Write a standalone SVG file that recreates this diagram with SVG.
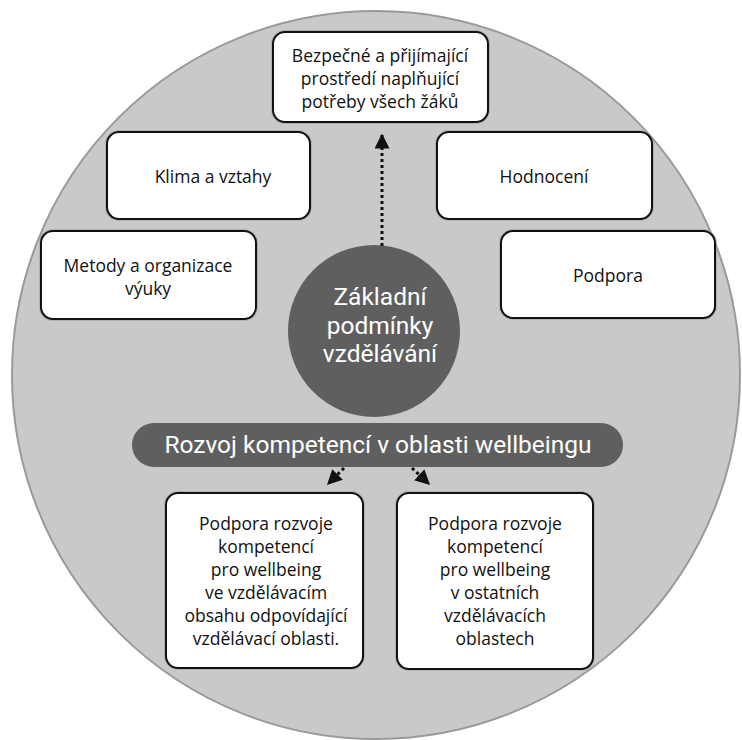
<svg xmlns="http://www.w3.org/2000/svg" width="742" height="740" viewBox="0 0 742 740">
<style>
.box{fill:#fff;stroke:#111;stroke-width:2}
.halo{fill:none;stroke:#999;stroke-width:4;opacity:0.5}
.t{font-family:"Open Sans","Liberation Sans",sans-serif;font-size:17.5px;fill:#111;text-anchor:middle}
.w{font-family:Roboto,"Liberation Sans",sans-serif;fill:#fff;text-anchor:middle}
.dash{stroke:#111;stroke-width:3;stroke-dasharray:3 3;fill:none}
</style>
<defs>
<marker id="ah" viewBox="0 0 10 10" refX="9" refY="5" markerWidth="5" markerHeight="5" markerUnits="strokeWidth" orient="auto">
<path d="M0,0 L10,5 L0,10 Z" fill="#111"/>
</marker>
</defs>
<rect width="742" height="740" fill="#fff"/>
<g id="outer">
<circle cx="376" cy="375" r="364" fill="#c9c9c9" stroke="#9a9a9a" stroke-width="2"/>
</g>
<g id="center">
<circle cx="374" cy="331" r="86" fill="#5f5f5f"/>
<text class="w" font-size="24.5" x="380" y="305">Základní</text>
<text class="w" font-size="24.5" x="380" y="334">podmínky</text>
<text class="w" font-size="24.5" x="380" y="362">vzdělávání</text>
</g>
<g id="pill">
<rect x="132" y="423" width="491" height="44" rx="22" fill="#5f5f5f"/>
<text class="w" font-size="24.5" x="378" y="453">Rozvoj kompetencí v oblasti wellbeingu</text>
</g>
<g id="connectors">
<line class="dash" x1="382" y1="246" x2="382" y2="135" marker-end="url(#ah)"/>
<line class="dash" x1="344" y1="468" x2="328" y2="484" marker-end="url(#ah)"/>
<line class="dash" x1="412" y1="468" x2="429" y2="484" marker-end="url(#ah)"/>
</g>
<g id="top">
<rect class="halo" x="273" y="32" width="215" height="90" rx="12"/>
<rect class="box" x="273" y="32" width="215" height="90" rx="12"/>
<text class="t" x="380" y="62">Bezpečné a přijímající</text>
<text class="t" x="380" y="85">prostředí naplňující</text>
<text class="t" x="380" y="108">potřeby všech žáků</text>
</g>
<g id="klima">
<rect class="halo" x="107" y="132" width="203" height="87" rx="12"/>
<rect class="box" x="107" y="132" width="203" height="87" rx="12"/>
<text class="t" x="213" y="183">Klima a vztahy</text>
</g>
<g id="hodnoceni">
<rect class="halo" x="437" y="132" width="215" height="87" rx="12"/>
<rect class="box" x="437" y="132" width="215" height="87" rx="12"/>
<text class="t" x="544" y="183">Hodnocení</text>
</g>
<g id="metody">
<rect class="halo" x="41" y="231" width="215" height="88" rx="12"/>
<rect class="box" x="41" y="231" width="215" height="88" rx="12"/>
<text class="t" x="148" y="272">Metody a organizace</text>
<text class="t" x="148" y="295">výuky</text>
</g>
<g id="podpora">
<rect class="halo" x="501" y="231" width="214" height="87" rx="12"/>
<rect class="box" x="501" y="231" width="214" height="87" rx="12"/>
<text class="t" x="608" y="282">Podpora</text>
</g>
<g id="bottom-left">
<rect class="halo" x="166" y="493" width="197" height="175" rx="12"/>
<rect class="box" x="166" y="493" width="197" height="175" rx="12"/>
<text class="t" x="266" y="530">Podpora rozvoje</text>
<text class="t" x="266" y="553">kompetencí</text>
<text class="t" x="266" y="576">pro wellbeing</text>
<text class="t" x="266" y="599">ve vzdělávacím</text>
<text class="t" x="266" y="622">obsahu odpovídající</text>
<text class="t" x="266" y="645">vzdělávací oblasti.</text>
</g>
<g id="bottom-right">
<rect class="halo" x="397" y="493" width="196" height="176" rx="12"/>
<rect class="box" x="397" y="493" width="196" height="176" rx="12"/>
<text class="t" x="495" y="530">Podpora rozvoje</text>
<text class="t" x="495" y="553">kompetencí</text>
<text class="t" x="495" y="576">pro wellbeing</text>
<text class="t" x="495" y="599">v ostatních</text>
<text class="t" x="495" y="622">vzdělávacích</text>
<text class="t" x="495" y="645">oblastech</text>
</g>
</svg>
